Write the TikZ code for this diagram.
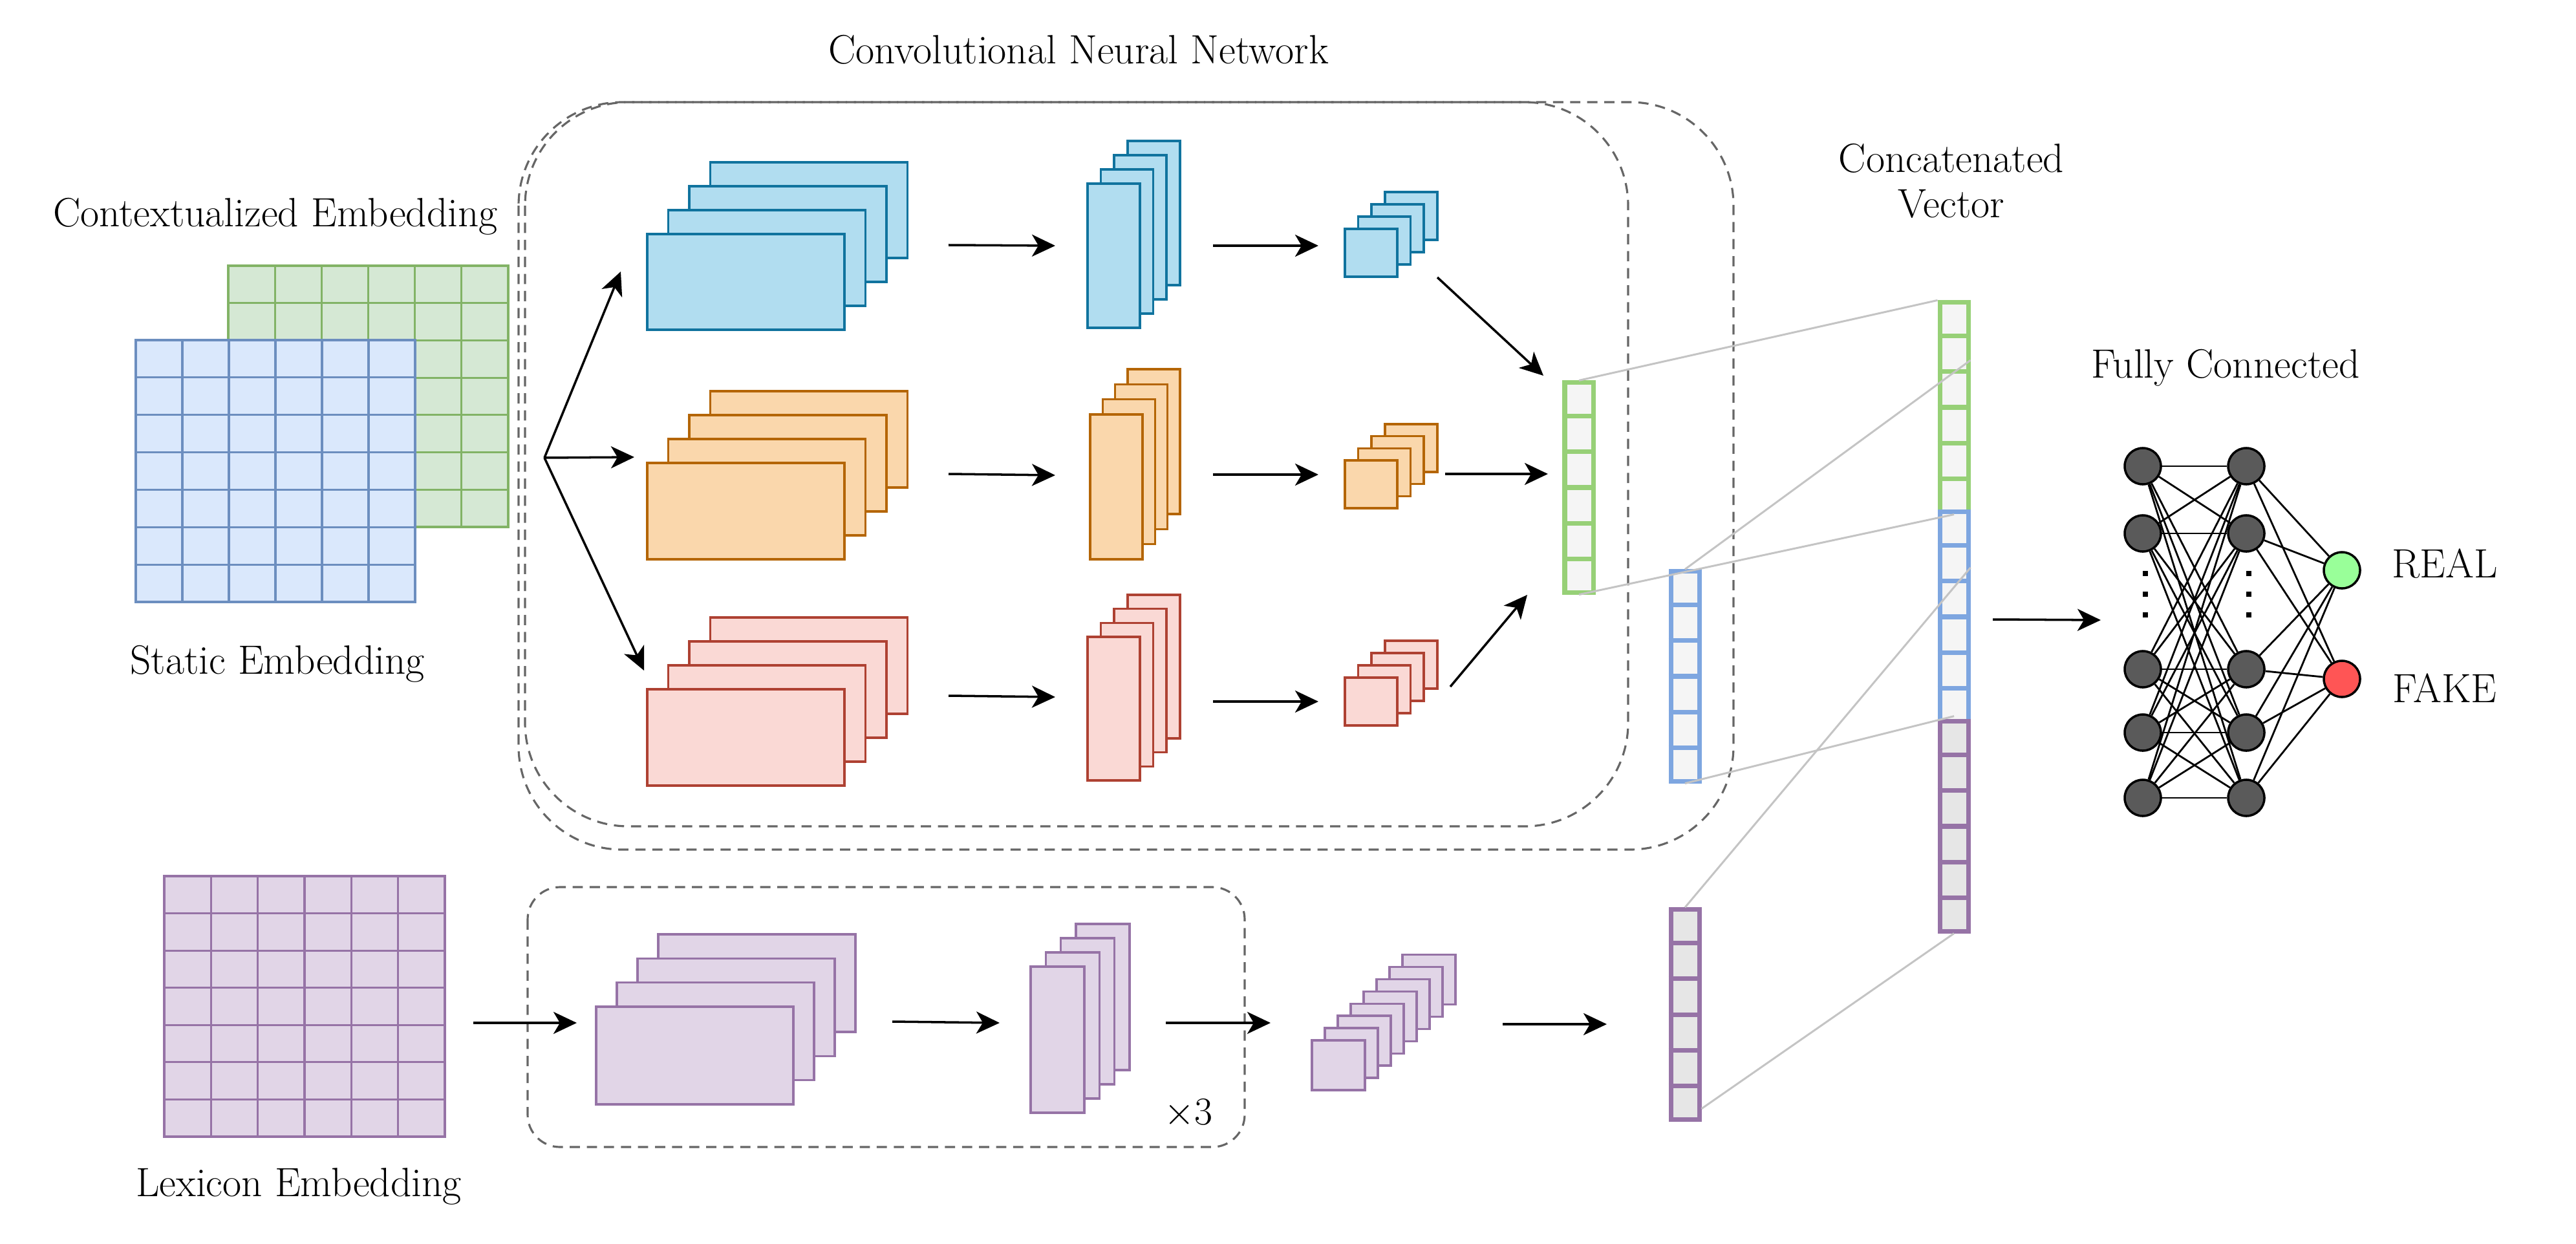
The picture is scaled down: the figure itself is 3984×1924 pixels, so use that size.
\documentclass[tikz,border=0pt]{standalone}
\usepackage{tikz}
\usetikzlibrary{arrows.meta, positioning, calc}
\definecolor{ctxfill}{HTML}{D5E8D4}
\definecolor{ctxline}{HTML}{82B366}
\definecolor{stfill}{HTML}{DAE8FC}
\definecolor{stline}{HTML}{6C8EBF}
\definecolor{lxfill}{HTML}{E1D5E7}
\definecolor{lxline}{HTML}{9673A6}
\definecolor{bfill}{HTML}{B1DDF0}
\definecolor{bline}{HTML}{10739E}
\definecolor{ofill}{HTML}{FAD7AC}
\definecolor{oline}{HTML}{B46504}
\definecolor{rfill}{HTML}{FAD9D5}
\definecolor{rline}{HTML}{AE4132}
\definecolor{vgreen}{HTML}{97D077}
\definecolor{vblue}{HTML}{7EA6E0}
\definecolor{vecfill}{HTML}{F5F5F5}
\definecolor{vecfillp}{HTML}{E6E6E6}
\definecolor{boxgray}{HTML}{666666}
\definecolor{linkgray}{HTML}{C4C4C4}
\definecolor{neuronc}{HTML}{5A5A5A}
\definecolor{realc}{HTML}{99FF99}
\definecolor{fakec}{HTML}{FF5555}
\tikzset{
    lbl/.style={
        font=\fontsize{18}{20}\selectfont,
        inner sep=0pt,
    },
    flow/.style={
        -{Stealth[length=3.6mm, width=3.4mm, inset=1mm]},
        line width=1pt,
    },
    framebox/.style={
        draw=boxgray,
        line width=0.9pt,
        dash pattern=on 4.5pt off 3pt,
        rounded corners=1.6cm,
    },
    ctxgrid/.style={draw=ctxline, fill=ctxfill, line width=0.9pt},
    stgrid/.style={draw=stline, fill=stfill, line width=0.9pt},
    lxgrid/.style={draw=lxline, fill=lxfill, line width=0.9pt},
    bmap/.style={draw=bline, fill=bfill, line width=1pt},
    omap/.style={draw=oline, fill=ofill, line width=1pt},
    rmap/.style={draw=rline, fill=rfill, line width=1pt},
    pmap/.style={draw=lxline, fill=lxfill, line width=1pt},
    vec/.style={
        draw,
        fill=vecfill,
        line width=2pt,
        minimum width=0.44cm,
        minimum height=3.24cm,
        inner sep=0pt,
    },
    link/.style={draw=linkgray, line width=0.85pt},
    neuron/.style={
        circle,
        draw=black,
        fill=neuronc,
        line width=1pt,
        minimum size=0.56cm,
        inner sep=0pt,
    },
    syn/.style={line width=0.8pt},
}
% embedding matrix: style, x0, y0, x1, y1 (6 columns, 7 rows)
\newcommand{\embgrid}[5]{%
  \draw[#1] (#2,#3) rectangle (#4,#5);
  \foreach \gi in {1,...,5} \draw[#1] ({#2+\gi*(#4-#2)/6},#3) -- ({#2+\gi*(#4-#2)/6},#5);
  \foreach \gj in {1,...,6} \draw[#1] (#2,{#3+\gj*(#5-#3)/7}) -- (#4,{#3+\gj*(#5-#3)/7});
}
% feature maps: style, back layers, x, y (front top left), w, h, dx, dy
\newcommand{\fmapstack}[8]{%
  \foreach \k in {#2,...,0} \draw[#1] ({#3+\k*#7},{#4-\k*#8}) rectangle ++(#5,#6);
}
% cells of a vector node
\newcommand{\vcells}[2]{%
  \foreach \k in {1,...,5} \draw[draw=#2, line width=2pt] ($(#1.north west)!\k/6!(#1.south west)$) -- ($(#1.north east)!\k/6!(#1.south east)$);
}
\begin{document}
\begin{tikzpicture}[x=0.01cm, y=-0.01cm]
    \useasboundingbox (0,0) rectangle (3984,1924);

    % frames
    \draw[framebox] (802,158) rectangle (2681,1314);
    \draw[framebox] (812,158) rectangle (2518,1278);
    \draw[framebox, rounded corners=0.5cm] (816,1372) rectangle (1925,1774);

    \node[lbl] (cnnt) at (1668,77) {Convolutional Neural Network};

    % embeddings
    \embgrid{ctxgrid}{353}{411}{786}{815}
    \embgrid{stgrid}{210}{526}{642}{931}
    \embgrid{lxgrid}{254}{1355}{688}{1758}

    \node[lbl] (ctxt) at (426,335) {Contextualized Embedding};
    \node[lbl] (stt) at (429,1027) {Static Embedding};
    \node[lbl] (lxt) at (462,1835) {Lexicon Embedding};

    % convolution branches
    \fmapstack{bmap}{3}{1001}{362}{305}{148}{32.5}{37}
    \fmapstack{bmap}{3}{1682}{284}{81}{223}{20.6}{22}
    \fmapstack{bmap}{3}{2080}{354}{81}{74}{20.6}{19}
    \fmapstack{omap}{3}{1001}{716}{305}{149}{32.5}{37}
    \fmapstack{omap}{3}{1686}{641}{81}{224}{19.3}{23.3}
    \fmapstack{omap}{3}{2080}{712}{81}{74}{20.6}{18.7}
    \fmapstack{rmap}{3}{1001}{1066}{305}{149}{32.5}{37}
    \fmapstack{rmap}{3}{1682}{985}{81}{222}{20.6}{21.7}
    \fmapstack{rmap}{3}{2080}{1048}{81}{74}{20.6}{19}

    % lexicon branch
    \fmapstack{pmap}{3}{922}{1557}{305}{151}{32}{37.3}
    \fmapstack{pmap}{3}{1594}{1495}{83}{226}{23.3}{22}
    \fmapstack{pmap}{7}{2029}{1609}{82}{77}{20}{18.9}
    \node[lbl] (times) at (1838,1722) {$\times 3$};

    % arrows
    \coordinate (fork) at (842,708);
    \coordinate (tob) at (960,420);
    \coordinate (too) at (981,707);
    \coordinate (tor) at (996,1037);
    \draw[flow] (fork) -- (tob);
    \draw[flow] (fork) -- (too);
    \draw[flow] (fork) -- (tor);

    \coordinate (b1) at (1467,379); \coordinate (b2) at (1632,380);
    \coordinate (b3) at (1876,380); \coordinate (b4) at (2039,380);
    \coordinate (b5) at (2223,429); \coordinate (b6) at (2387,581);
    \coordinate (o1) at (1467,733); \coordinate (o2) at (1632,735);
    \coordinate (o3) at (1876,734); \coordinate (o4) at (2039,734);
    \coordinate (o5) at (2235,733); \coordinate (o6) at (2394,733);
    \coordinate (r1) at (1467,1076); \coordinate (r2) at (1632,1078);
    \coordinate (r3) at (1876,1085); \coordinate (r4) at (2039,1085);
    \coordinate (r5) at (2243,1062); \coordinate (r6) at (2362,920);
    \coordinate (l1) at (732,1582); \coordinate (l2) at (892,1582);
    \coordinate (l3) at (1380,1580); \coordinate (l4) at (1546,1582);
    \coordinate (l5) at (1803,1582); \coordinate (l6) at (1965,1582);
    \coordinate (l7) at (2324,1584); \coordinate (l8) at (2485,1584);
    \draw[flow] (b1) -- (b2);
    \draw[flow] (b3) -- (b4);
    \draw[flow] (b5) -- (b6);
    \draw[flow] (o1) -- (o2);
    \draw[flow] (o3) -- (o4);
    \draw[flow] (o5) -- (o6);
    \draw[flow] (r1) -- (r2);
    \draw[flow] (r3) -- (r4);
    \draw[flow] (r5) -- (r6);
    \draw[flow] (l1) -- (l2);
    \draw[flow] (l3) -- (l4);
    \draw[flow] (l5) -- (l6);
    \draw[flow] (l7) -- (l8);

    % vectors
    \node[vec, draw=vgreen] (gvec) at (2442,754) {};
    \node[vec, draw=vblue] (bvec) at (2606,1046) {};
    \node[vec, draw=lxline, fill=vecfillp] (pvec) at (2606,1569) {};
    \node[vec, draw=vgreen] (catg) at (3022,630) {};
    \node[vec, draw=vblue] (catb) at (3022,954) {};
    \node[vec, draw=lxline, fill=vecfillp] (catp) at (3022,1278) {};
    \vcells{gvec}{vgreen}
    \vcells{bvec}{vblue}
    \vcells{pvec}{lxline}
    \vcells{catg}{vgreen}
    \vcells{catb}{vblue}
    \vcells{catp}{lxline}

    \draw[link] (gvec.north) -- (catg.north west);
    \draw[link] (gvec.south) -- (catg.south);
    \draw[link] (bvec.north) -- ($(catg.north east)!0.28!(catg.south east)$);
    \draw[link] (bvec.south) -- ($(catb.south)+(0,-12)$);
    \draw[link] (pvec.north) -- ($(catb.north east)!0.27!(catb.south east)$);
    \draw[link] ($(pvec.south east)!0.06!(pvec.north east)$) -- (catp.south);

    \node[lbl, align=center] (catt) at (3018,280) {Concatenated\\Vector};

    % fully connected
    \coordinate (c1) at (3082,958); \coordinate (c2) at (3249,959);
    \draw[flow] (c1) -- (c2);
    \node[lbl] (fct) at (3442,569) {Fully Connected};

    \foreach \i/\yy in {1/721,2/825,3/1035,4/1133,5/1234} {
        \node[neuron] (a\i) at (3314,\yy) {};
        \node[neuron] (h\i) at (3474,\yy) {};
    }
    \node[neuron, fill=realc] (yreal) at (3622,882) {};
    \node[neuron, fill=fakec] (yfake) at (3622,1050) {};
    \foreach \i in {1,...,5} {
        \foreach \j in {1,...,5} \draw[syn] (a\i) -- (h\j);
        \draw[syn] (h\i) -- (yreal);
        \draw[syn] (h\i) -- (yfake);
    }
    \foreach \xx in {3318,3478} \foreach \yy in {887,919,951} \fill (\xx-4,\yy-4) rectangle ++(8,8);

    \node[lbl] (treal) at (3781,872) {REAL};
    \node[lbl] (tfake) at (3781,1064) {FAKE};
\end{tikzpicture}
\end{document}
